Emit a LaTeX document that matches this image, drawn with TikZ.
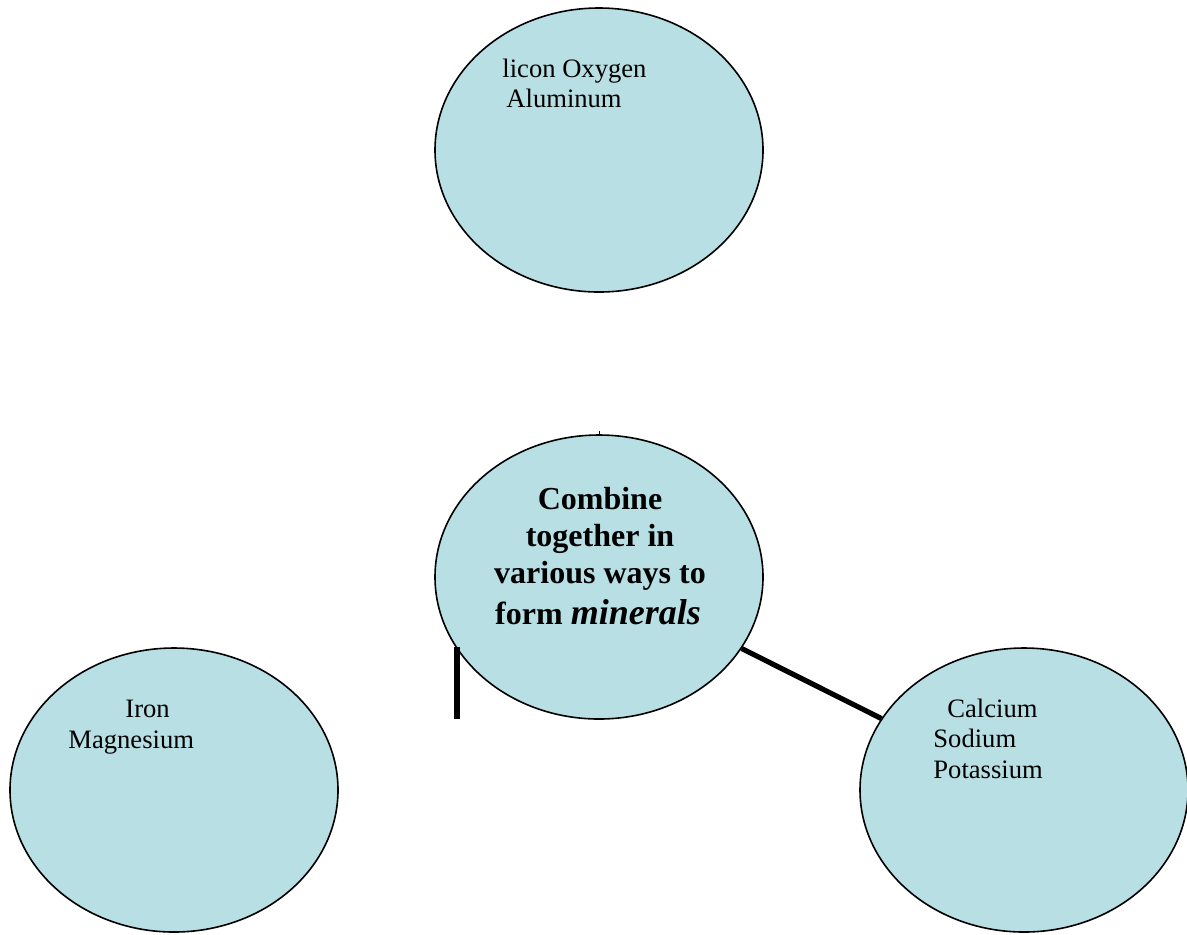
\documentclass[tikz,border=0pt]{standalone}
\usepackage{fontspec}
\setmainfont{Liberation Serif}
\usetikzlibrary{shapes.geometric}
\definecolor{blobfill}{RGB}{184,223,227}

\begin{document}
\begin{tikzpicture}[
      x=0.5pt, y=-0.5pt,
      blob/.style={ellipse,draw,fill=blobfill,line width=0.8pt,inner sep=0pt,minimum width=164pt,minimum height=142pt},
      word/.style={anchor=base west,inner sep=0pt,font=\fontsize{13.3}{15.5}\selectfont},
      core/.style={anchor=base,inner sep=0pt,font=\fontsize{16}{18.5}\selectfont\bfseries},
      link/.style={line width=2.6pt}
    ]
    \useasboundingbox (0,0) rectangle (1187,934);
    % Draw the ellipses.
    \node[blob] (elem) at (599,150) {};
    \node[blob] (mix) at (599,577) {};
    \node[blob] (fe) at (174,790) {};
    \node[blob] (ca) at (1024,790) {};
    % Label the ellipses.
    \node[word] (elem1) at (502,77) {licon Oxygen};
    \node[word] (elem2) at (506,107) {Aluminum};
    \node[word] (fe1) at (125,717) {Iron};
    \node[word] (fe2) at (68,748) {Magnesium};
    \node[word] (ca1) at (947,717) {Calcium};
    \node[word] (ca2) at (933,747) {Sodium};
    \node[word] (ca3) at (933,778) {Potassium};
    \node[core] (mix1) at (600,509) {Combine};
    \node[core] (mix2) at (600,546) {together in};
    \node[core] (mix3) at (600,583) {various ways to};
    \node[core] (mix4) at (598,624) {form {\fontsize{18}{20}\selectfont\itshape minerals}};
    % Draw the connectors.
    \coordinate (stub) at (457,719);
    \draw[link] (stub |- mix.206.57) -- (stub);
    \draw[link] (mix) -- (ca);
    \draw[line width=0.4pt] (mix.north) -- ++(0,-3);
\end{tikzpicture}
\end{document}
